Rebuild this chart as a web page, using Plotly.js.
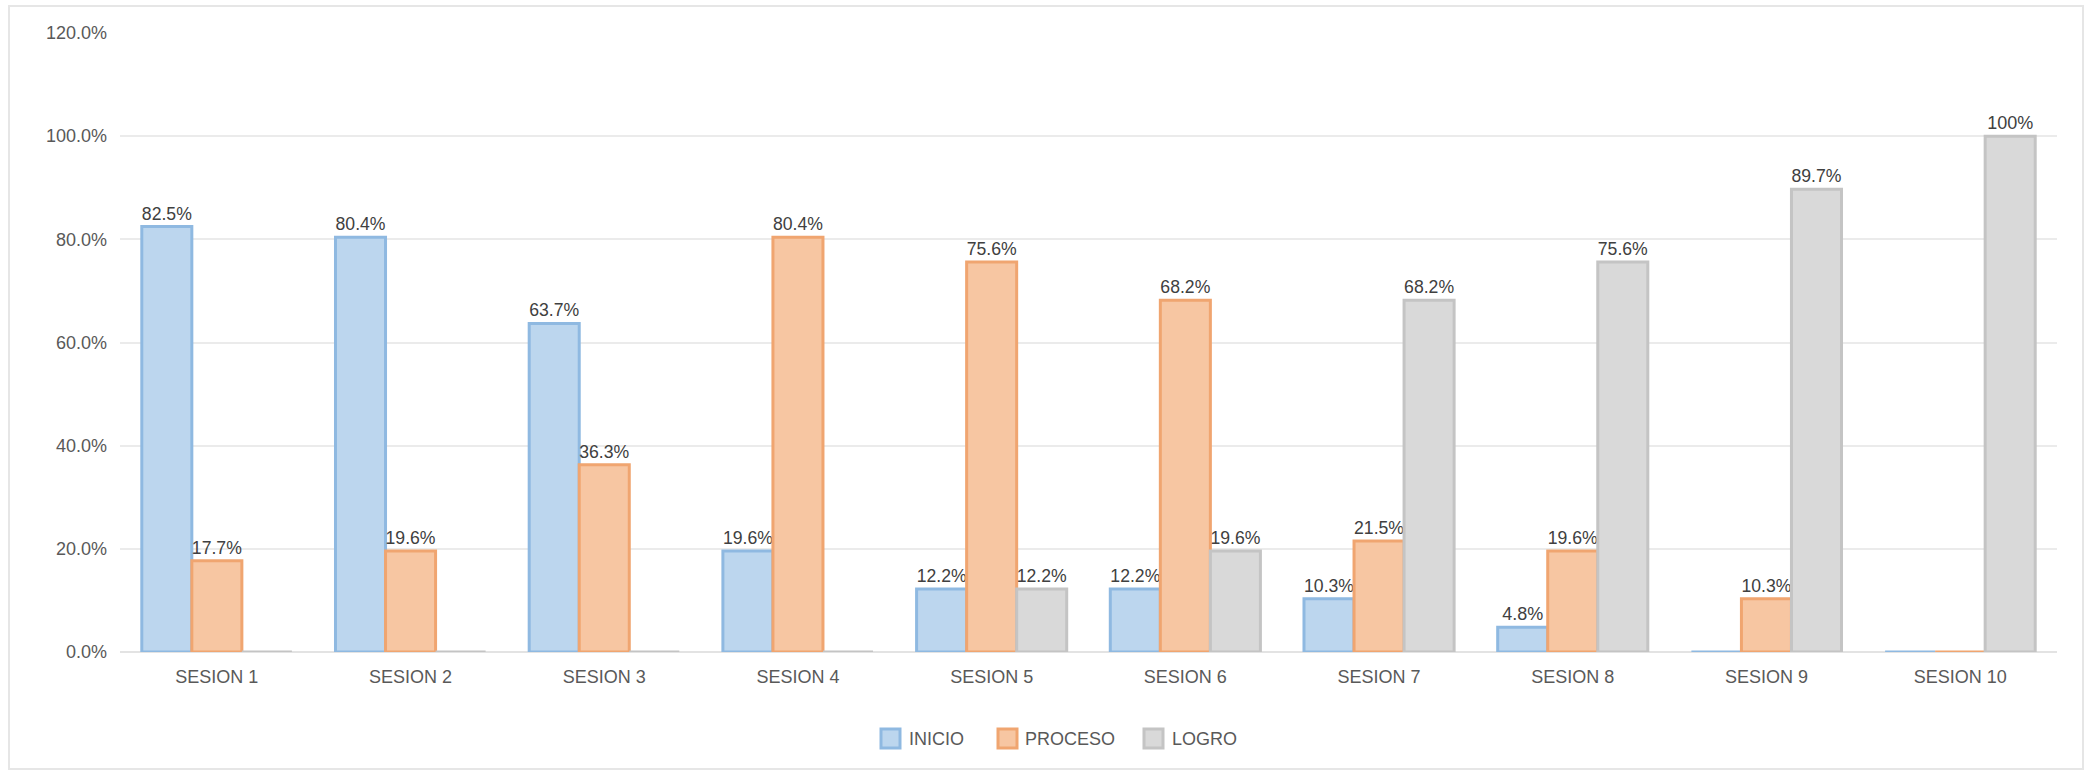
<!DOCTYPE html>
<html>
<head>
<meta charset="utf-8">
<script src="https://cdn.plot.ly/plotly-3.0.1.min.js"></script>
<style>html,body{margin:0;padding:0;background:#fff;}#chart{width:2090px;height:771px;}</style>
</head>
<body>
<div id="chart"></div>
<script>
const categories = ["SESION 1","SESION 2","SESION 3","SESION 4","SESION 5","SESION 6","SESION 7","SESION 8","SESION 9","SESION 10"];
const seriesNames = ["INICIO","PROCESO","LOGRO"];
const inicio  = [82.5, 80.4, 63.7, 19.6, 12.2, 12.2, 10.3, 4.8, 0, 0];
const proceso = [17.7, 19.6, 36.3, 80.4, 75.6, 68.2, 21.5, 19.6, 10.3, 0];
const logro   = [0, 0, 0, 0, 12.2, 19.6, 68.2, 75.6, 89.7, 100];
const yTickVals = [0, 20, 40, 60, 80, 100, 120];
const yTickText = ["0.0%","20.0%","40.0%","60.0%","80.0%","100.0%","120.0%"];

const fills = ["#bcd6ee", "#f7c6a2", "#d9d9d9"];
const lines = ["#8fb9e1", "#f0a570", "#c4c4c4"];

function labels(arr){
  return arr.map(v => v === 0 ? "" : (v === 100 ? "100%" : v.toFixed(1) + "%"));
}
const FAM = "Liberation Sans, Arial, sans-serif";
const FS = 18;

function series(i, vals){
  return {
    type: "bar", name: seriesNames[i], x: categories, y: vals,
    text: labels(vals), textposition: "outside", cliponaxis: false,
    textfont: {family: FAM, size: FS, color: "#404040"},
    marker: {color: fills[i], line: {color: lines[i], width: 3}},
    hoverinfo: "none", showlegend: false
  };
}
const data = [series(0, inicio), series(1, proceso), series(2, logro)];

// plot area in pixels
const L = 120, R = 2057, T = 33, B = 652;
const W = R - L, H = B - T;
const px = x => (x - L) / W;
const py = y => (B - y) / H;

// custom legend (larger swatches, like the original)
const legendItems = [
  {sx: 880, tx: 907},
  {sx: 997, tx: 1023},
  {sx: 1143, tx: 1170}
];
const shapes = [{type: "rect", xref: "paper", yref: "paper",
  x0: px(9), x1: px(2083), y0: py(769), y1: py(6),
  line: {color: "#e6e6e6", width: 2}, fillcolor: "rgba(0,0,0,0)", layer: "below"}];
const annotations = [];
legendItems.forEach((it, i) => {
  shapes.push({type: "rect", xref: "paper", yref: "paper",
    x0: px(it.sx + 1), x1: px(it.sx + 20), y0: py(748), y1: py(729),
    fillcolor: fills[i], line: {color: lines[i], width: 3}});
  annotations.push({xref: "paper", yref: "paper", x: px(it.tx), y: py(739),
    xanchor: "left", yanchor: "middle", showarrow: false, text: seriesNames[i],
    font: {family: FAM, size: FS, color: "#595959"}});
});

const layout = {
  width: 2090, height: 771,
  margin: {l: L, r: 2090 - R, t: T, b: 771 - B},
  paper_bgcolor: "#fff", plot_bgcolor: "#fff",
  barmode: "group", bargap: 0.225, bargroupgap: 0,
  font: {family: FAM, size: FS, color: "#595959"},
  showlegend: false,
  xaxis: {type: "category", showgrid: false, showline: false, zeroline: false,
          ticks: "", ticklabelstandoff: 12,
          tickfont: {family: FAM, size: FS, color: "#595959"}},
  yaxis: {range: [0, 120], tickvals: yTickVals, ticktext: yTickText,
          showgrid: true, gridcolor: "#ebebeb", gridwidth: 2,
          zeroline: true, zerolinecolor: "#e3e3e3", zerolinewidth: 2,
          showline: false, ticks: "", ticklabelstandoff: 12,
          tickfont: {family: FAM, size: FS, color: "#595959"}},
  shapes: shapes,
  annotations: annotations
};
Plotly.newPlot("chart", data, layout, {staticPlot: true});
</script>
</body>
</html>
